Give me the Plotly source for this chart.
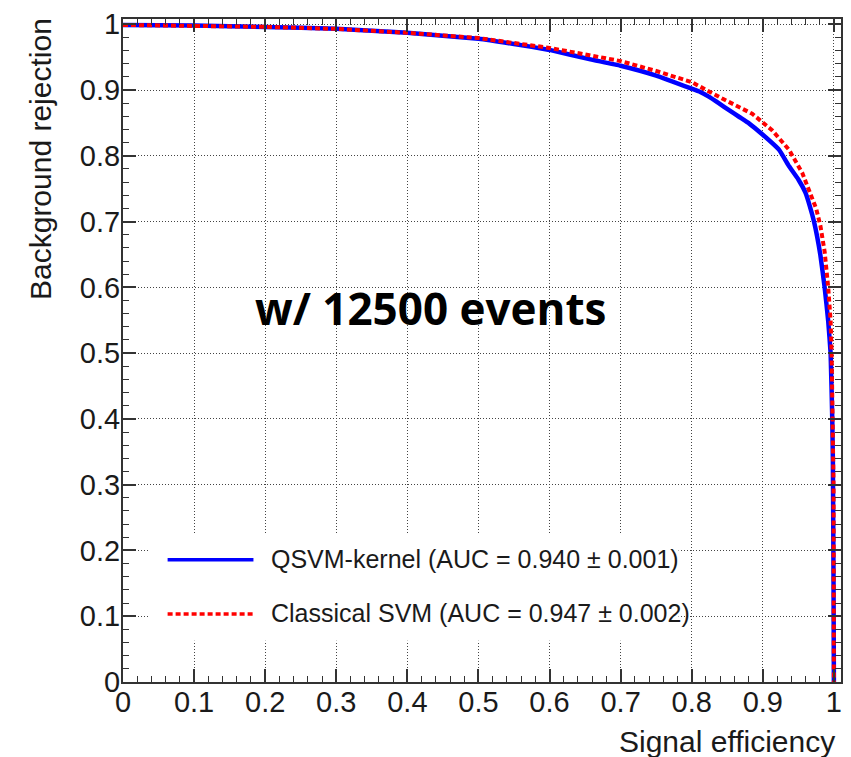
import plotly.graph_objects as go

# ROC curves: signal efficiency vs background rejection
qsvm_eff = [0.0, 0.1, 0.2, 0.3, 0.4, 0.5, 0.55, 0.6, 0.656, 0.7, 0.75, 0.8, 0.812, 0.824, 0.838,
            0.853, 0.867, 0.881, 0.9, 0.923, 0.937, 0.95, 0.96, 0.966, 0.972, 0.981, 0.987,
            0.992, 0.9954, 0.9977, 0.9986, 0.9995, 1.0]
qsvm_rej = [0.999, 0.998, 0.996, 0.993, 0.987, 0.978, 0.970, 0.961, 0.947, 0.937, 0.922, 0.902,
            0.897, 0.890, 0.880, 0.869, 0.859, 0.849, 0.832, 0.809, 0.784, 0.764, 0.744,
            0.724, 0.700, 0.649, 0.600, 0.549, 0.500, 0.400, 0.333, 0.150, 0.0]

svm_eff = [0.0, 0.1, 0.2, 0.3, 0.4, 0.5, 0.55, 0.6, 0.656, 0.7, 0.75, 0.8, 0.843, 0.885, 0.913,
           0.937, 0.9555, 0.970, 0.975, 0.981, 0.987, 0.992, 0.9954, 0.9968, 0.9986,
           0.9995, 1.0]
svm_rej = [0.999, 0.998, 0.996, 0.993, 0.987, 0.979, 0.972, 0.964, 0.953, 0.944, 0.929, 0.912,
           0.887, 0.864, 0.839, 0.809, 0.774, 0.734, 0.720, 0.694, 0.654, 0.600, 0.549,
           0.500, 0.400, 0.300, 0.0]

qsvm_label = "QSVM-kernel (AUC = 0.940 \u00b1 0.001)"
svm_label = "Classical SVM (AUC = 0.947 \u00b1 0.002)"
annotation_text = "w/ 12500 events"

tick_vals = [0, 0.1, 0.2, 0.3, 0.4, 0.5, 0.6, 0.7, 0.8, 0.9, 1.0]
tick_text = ["0", "0.1", "0.2", "0.3", "0.4", "0.5", "0.6", "0.7", "0.8", "0.9", "1"]

BLUE = "#0000ff"
RED = "#ff0000"
FRAME = "#333333"
TXT = "#1a1a1a"
FONT = "Liberation Sans, Arial, sans-serif"

fig = go.Figure()
fig.add_trace(go.Scatter(x=qsvm_eff, y=qsvm_rej, mode="lines", name=qsvm_label,
                         line=dict(color=BLUE, width=4.5, shape="spline", smoothing=0.3)))
fig.add_trace(go.Scatter(x=svm_eff, y=svm_rej, mode="lines", name=svm_label,
                         line=dict(color=RED, width=4, dash="5px,3px")))

axis_common = dict(
    tickmode="array", tickvals=tick_vals, ticktext=tick_text,
    ticks="inside", ticklen=13, tickwidth=1.5, tickcolor=FRAME,
    minor=dict(ticks="inside", ticklen=6, tickwidth=1.2, tickcolor=FRAME,
               dtick=0.02, tick0=0, showgrid=False),
    showline=True, linewidth=2, linecolor=FRAME, mirror="ticks",
    showgrid=True, gridcolor="#444444", gridwidth=1, griddash="1px,2px",
    zeroline=False,
    tickfont=dict(family=FONT, size=29, color=TXT),
)

fig.update_xaxes(range=[0, 1.01], ticklabelstandoff=-7, **axis_common)
fig.update_yaxes(range=[0, 1.008], ticklabelstandoff=-5, **axis_common)

# paper-coordinate helpers for the legend box (plot area is 719.4 x 671 px)
PW, PH = 719.4, 671.0
def px(xp):
    return (xp - 123.3) / PW
def py(yp):
    return (681.7 - yp) / PH

shapes = [
    dict(type="rect", xref="paper", yref="paper", x0=px(150), x1=px(680), y0=py(640), y1=py(532),
         fillcolor="white", line=dict(width=0), layer="above"),
    dict(type="line", xref="paper", yref="paper", x0=px(168), x1=px(254), y0=py(558), y1=py(558),
         line=dict(color=BLUE, width=3.5), layer="above"),
    dict(type="line", xref="paper", yref="paper", x0=px(168), x1=px(254), y0=py(613), y1=py(613),
         line=dict(color=RED, width=3.5, dash="5px,3px"), layer="above"),
]

annotations = [
    dict(text=qsvm_label, xref="paper", yref="paper", x=px(270), y=py(557),
         xanchor="left", yanchor="middle", showarrow=False,
         font=dict(family=FONT, size=25, color=TXT)),
    dict(text=svm_label, xref="paper", yref="paper", x=px(270), y=py(612),
         xanchor="left", yanchor="middle", showarrow=False,
         font=dict(family=FONT, size=25, color=TXT)),
    dict(text="<b>" + annotation_text + "</b>", xref="x", yref="y", x=0.432, y=0.568,
         xanchor="center", yanchor="middle", showarrow=False,
         font=dict(family="Open Sans, Noto Sans, sans-serif", size=44, color="black")),
    dict(text="Background rejection", xref="paper", yref="paper", x=0, y=1,
         xshift=-83, yshift=3, xanchor="center", yanchor="top", textangle=-90,
         showarrow=False, font=dict(family=FONT, size=30, color=TXT)),
    dict(text="Signal efficiency", xref="paper", yref="paper", x=px(839), y=0,
         yshift=-59, xanchor="right", yanchor="middle", showarrow=False,
         font=dict(family=FONT, size=30, color=TXT)),
]

fig.update_layout(
    width=851, height=757,
    margin=dict(l=123, r=8, t=11, b=75),
    paper_bgcolor="white", plot_bgcolor="white",
    showlegend=False,
    shapes=shapes, annotations=annotations,
)

fig.write_html("out.html")
